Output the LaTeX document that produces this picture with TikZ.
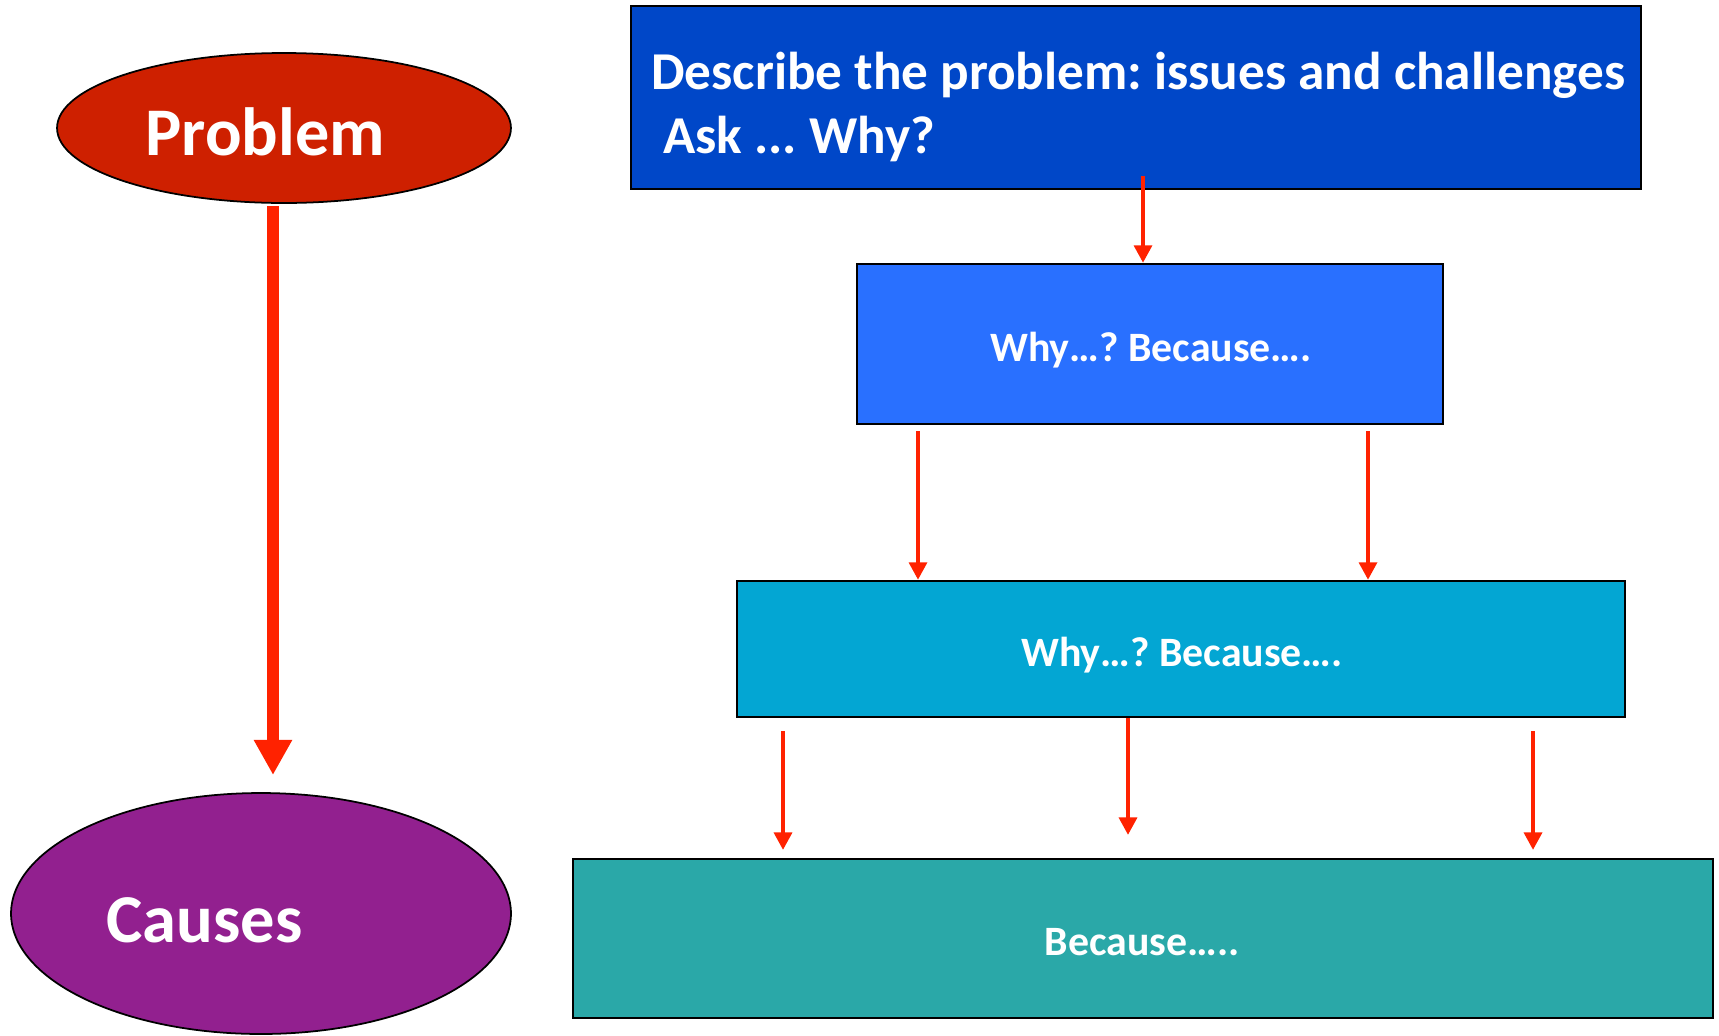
\documentclass[tikz,border=0pt]{standalone}
\usepackage{fontspec}
\setmainfont{Carlito}
\frenchspacing
\usetikzlibrary{arrows.meta,shapes.geometric}
\definecolor{probred}{RGB}{206,32,0}
\definecolor{causepurple}{RGB}{146,32,143}
\definecolor{topblue}{RGB}{0,71,200}
\definecolor{midblue}{RGB}{41,112,255}
\definecolor{cyanbox}{RGB}{3,166,211}
\definecolor{tealbox}{RGB}{42,168,168}
\definecolor{arrowred}{RGB}{255,34,0}
\tikzset{
  oval/.style={ellipse, draw=black, line width=1pt, inner sep=0pt},
  boxnode/.style={rectangle, draw=black, line width=1.3pt, inner sep=0pt},
  bigtext/.style={text=white, font=\fontsize{38.8}{46}\selectfont\bfseries, inner sep=0pt},
  toptext/.style={text=white, font=\fontsize{30.3}{36}\selectfont\bfseries, inner sep=0pt, anchor=base west},
  boxtext/.style={text=white, font=\fontsize{23.8}{28}\selectfont\bfseries, inner sep=0pt, anchor=base},
  arr/.style={draw=arrowred, line width=2.6pt, -{Triangle[width=10pt,length=10pt]}},
  bigarr/.style={draw=arrowred, line width=6.5pt, -{Triangle[width=20.5pt,length=20pt]}}
}
\begin{document}
\begin{tikzpicture}[x=0.02cm,y=-0.02cm]
\useasboundingbox (0,0) rectangle (1719,1035);
% ellipses
\node[oval, fill=probred, minimum width=9.08cm, minimum height=3.0cm] (prob) at (284,128) {};
\node[bigtext, anchor=base west] (probtxt) at (145,155) {Problem};
\node[oval, fill=causepurple, minimum width=10cm, minimum height=4.82cm] (cause) at (261,913.5) {};
\node[bigtext, anchor=base west, font=\fontsize{39}{46}\selectfont\bfseries] (causetxt) at (106,942) {Causes};
% big arrow
\coordinate (pa) at (273,206);
\coordinate (pb) at (273,775);
\draw[bigarr] (pa) -- (pb);
% boxes
\node[boxnode, fill=topblue, minimum width=20.2cm, minimum height=3.66cm] (top) at (1136,97.5) {};
\node[toptext] (toptxta) at (651,89) {Describe the problem: issues and challenges};
\node[toptext] (toptxtb) at (663,153) {Ask ... Why?};
\node[boxnode, fill=midblue, minimum width=11.72cm, minimum height=3.2cm] (b2) at (1150,344) {};
\node[boxtext] (b2txt) at (1151,361) {Why…? Because….};
\node[boxnode, fill=cyanbox, minimum width=17.76cm, minimum height=2.72cm] (b3) at (1181,649) {};
\node[boxtext] (b3txt) at (1182,666) {Why…? Because….};
\node[boxnode, fill=tealbox, minimum width=22.8cm, minimum height=3.18cm] (b4) at (1143,938.5) {};
\node[boxtext] (b4txt) at (1142,955) {Because…..};
% small arrows
\coordinate (a1) at (1143,176);
\draw[arr] (a1) -- (a1 |- b2.north);
\coordinate (a2) at (918,431);
\coordinate (a3) at (1368,431);
\draw[arr] (a2) -- (a2 |- b3.north);
\draw[arr] (a3) -- (a3 |- b3.north);
\coordinate (a4) at (783,731);
\coordinate (a4e) at (783,850);
\coordinate (a5) at (1128,717);
\coordinate (a5e) at (1128,835);
\coordinate (a6) at (1533,731);
\coordinate (a6e) at (1533,850);
\draw[arr] (a4) -- (a4e);
\draw[arr] (a5 |- b3.south) -- (a5e);
\draw[arr] (a6) -- (a6e);
\end{tikzpicture}
\end{document}
